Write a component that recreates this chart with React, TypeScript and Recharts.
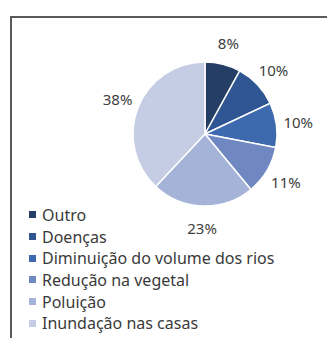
import { PieChart, Pie, Cell, Legend } from 'recharts';

const CATEGORIES = [
  'Outro',
  'Doenças',
  'Diminuição do volume dos rios',
  'Redução na vegetal',
  'Poluição',
  'Inundação nas casas',
];
const PERCENTS = [8, 10, 10, 11, 23, 38];
const COLORS = ['#253e66', '#2f5592', '#3d69ae', '#6f88c1', '#a4b3d7', '#c4cde4'];

const data = CATEGORIES.map((name, i) => ({ name, value: PERCENTS[i] }));

const RADIAN = Math.PI / 180;
const FONT = '"Noto Sans", "Open Sans", sans-serif';

function renderLabel(props: any) {
  const { cx, cy, midAngle, outerRadius, value } = props;
  const r = outerRadius + 22;
  const x = cx + r * Math.cos(-midAngle * RADIAN);
  const y = cy + r * Math.sin(-midAngle * RADIAN);
  return (
    <text
      x={x}
      y={y}
      textAnchor="middle"
      dominantBaseline="central"
      fill="#404040"
      fontSize={15}
      fontFamily={FONT}
    >
      {`${value}%`}
    </text>
  );
}

// keep legend rows in slice order instead of alphabetical
function LegendList(props: any) {
  const payload = [...(props.payload || [])].sort(
    (a: any, b: any) => CATEGORIES.indexOf(a.value) - CATEGORIES.indexOf(b.value)
  );
  return (
    <div style={{ fontFamily: FONT, fontSize: 16, color: '#3a3a3a' }}>
      {payload.map((entry: any, i: number) => (
        <div
          key={`legend-${i}`}
          style={{
            display: 'flex',
            alignItems: 'center',
            height: 21.7,
            width: 'fit-content',
            whiteSpace: 'nowrap',
          }}
        >
          <span
            style={{
              display: 'inline-block',
              width: 7,
              height: 7,
              background: entry.color,
              marginRight: 6,
            }}
          />
          {entry.value}
        </div>
      ))}
    </div>
  );
}

export default function App() {
  return (
    <div style={{ position: 'absolute', left: 0, top: 0, width: 327, height: 338, background: '#fff' }}>
      <div
        style={{
          position: 'absolute',
          left: 10,
          top: 16,
          width: 317,
          height: 322,
          borderLeft: '2px solid #5a5a5a',
          borderTop: '2px solid #5a5a5a',
          boxSizing: 'border-box',
        }}
      />
      <PieChart width={327} height={338} style={{ position: 'absolute', left: 0, top: 0 }}>
        <Pie
          data={data}
          dataKey="value"
          nameKey="name"
          cx={200}
          cy={129}
          outerRadius={72}
          startAngle={90}
          endAngle={-270}
          stroke="#ffffff"
          strokeWidth={1.5}
          label={renderLabel}
          labelLine={false}
          isAnimationActive={false}
        >
          {data.map((_, index) => (
            <Cell key={`cell-${index}`} fill={COLORS[index % COLORS.length]} />
          ))}
        </Pie>
        <Legend
          layout="vertical"
          content={<LegendList />}
          wrapperStyle={{ position: 'absolute', left: 29, top: 204, width: 'auto' }}
        />
      </PieChart>
    </div>
  );
}
